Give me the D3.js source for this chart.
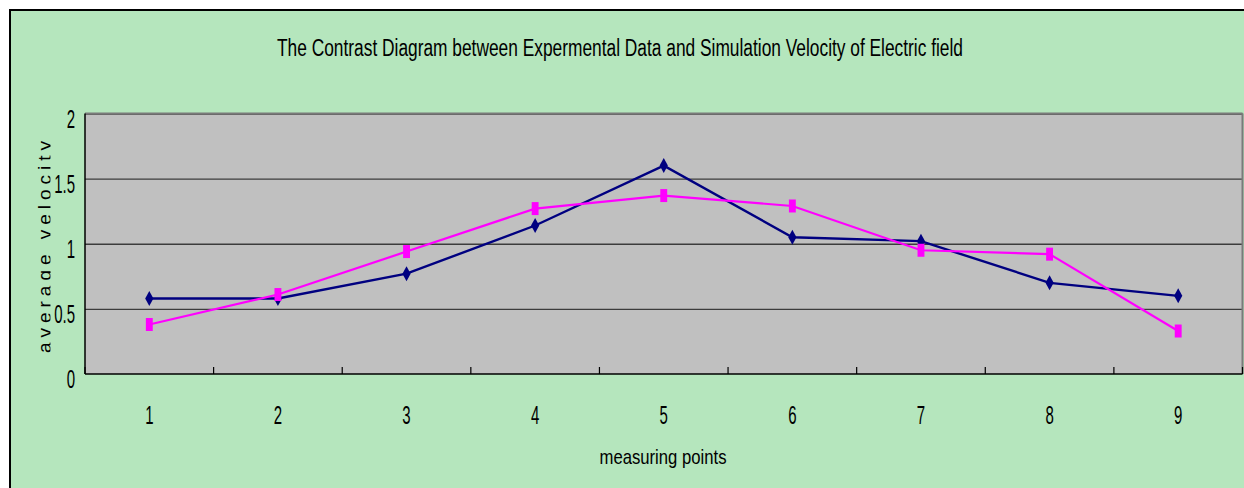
<!DOCTYPE html>
<html>
<head>
<meta charset="utf-8">
<script src="https://cdn.jsdelivr.net/npm/d3@7"></script>
<style>
  html, body { margin: 0; padding: 0; background: #ffffff; }
  svg { display: block; }
  text { font-family: "Liberation Sans", Arial, sans-serif; fill: #000; }
</style>
</head>
<body>
<svg id="chart" width="1244" height="488"></svg>
<script>
// Measured average velocity at each measuring point
const categories = ["1", "2", "3", "4", "5", "6", "7", "8", "9"];
const experimental = [0.58, 0.58, 0.77, 1.14, 1.60, 1.05, 1.02, 0.70, 0.60];
const simulation   = [0.38, 0.61, 0.94, 1.27, 1.37, 1.29, 0.95, 0.92, 0.33];
const yTicks = [0, 0.5, 1, 1.5, 2];
const yTickLabels = ["0", "0.5", "1", "1.5", "2"];
const titleText = "The Contrast Diagram between Expermental Data and Simulation Velocity of Electric field";
const xTitle = "measuring points";
const yTitle = "average velocity";

const svg = d3.select("#chart");
const W = 1244, H = 488;
const plot = { left: 85, right: 1242.5, top: 113.5, bottom: 374 };
const narrow = 0.6; // horizontal squeeze of the condensed lettering

// Chart area with frame
svg.append("rect")
  .attr("x", 10).attr("y", 10)
  .attr("width", W + 20).attr("height", H + 20)
  .attr("fill", "#b5e6bd")
  .attr("stroke", "#000").attr("stroke-width", 2);

const x = d3.scaleBand().domain(categories).range([plot.left, plot.right]).padding(0);
const y = d3.scaleLinear().domain([0, 2]).range([plot.bottom, plot.top]);
const cx = d => x(d) + x.bandwidth() / 2;

// Title
svg.append("text")
  .attr("x", 620).attr("y", 56)
  .attr("text-anchor", "middle")
  .attr("font-size", 23)
  .attr("textLength", 686)
  .attr("lengthAdjust", "spacingAndGlyphs")
  .text(titleText);

// Plot background
svg.append("rect")
  .attr("x", plot.left).attr("y", plot.top)
  .attr("width", plot.right - plot.left).attr("height", plot.bottom - plot.top)
  .attr("fill", "#c0c0c0");

// Horizontal gridlines with value labels
const yAxis = svg.append("g")
  .attr("transform", `translate(${plot.left},0)`)
  .call(d3.axisLeft(y).tickValues(yTicks)
    .tickSize(-(plot.right - plot.left))
    .tickFormat((d, i) => yTickLabels[i]));
yAxis.select(".domain").remove();
yAxis.selectAll(".tick line")
  .attr("stroke", d => d === 0 ? "none" : "#3c3c3c")
  .attr("stroke-width", 1.4);
yAxis.selectAll(".tick text")
  .attr("x", null).attr("dy", null)
  .attr("font-size", 25)
  .attr("font-family", "Liberation Sans, Arial, sans-serif")
  .attr("fill", "#000")
  .attr("text-anchor", "end")
  .attr("dominant-baseline", "middle")
  .attr("transform", `translate(-10,7) scale(${narrow},1)`);

// Plot border: grey top/right, black axis lines left/bottom
svg.append("line")
  .attr("x1", plot.left).attr("x2", plot.right)
  .attr("y1", plot.top).attr("y2", plot.top)
  .attr("stroke", "#7a7a7a").attr("stroke-width", 2);
svg.append("line")
  .attr("x1", plot.right).attr("x2", plot.right)
  .attr("y1", plot.top).attr("y2", plot.bottom)
  .attr("stroke", "#7a7a7a").attr("stroke-width", 2);
svg.append("line")
  .attr("x1", plot.left).attr("x2", plot.left)
  .attr("y1", plot.top).attr("y2", plot.bottom)
  .attr("stroke", "#000").attr("stroke-width", 1.5);
svg.append("line")
  .attr("x1", plot.left).attr("x2", plot.right)
  .attr("y1", plot.bottom).attr("y2", plot.bottom)
  .attr("stroke", "#000").attr("stroke-width", 1.5);

// Category boundary ticks pointing into the plot
const boundaries = categories.map(c => x(c)).concat([plot.right]);
svg.append("g").selectAll("line")
  .data(boundaries)
  .join("line")
  .attr("x1", d => d).attr("x2", d => d)
  .attr("y1", plot.bottom).attr("y2", plot.bottom - 7)
  .attr("stroke", "#000").attr("stroke-width", 1.2);

// Category labels
const xAxis = svg.append("g")
  .attr("transform", `translate(0,${plot.bottom})`)
  .call(d3.axisBottom(x).tickSize(0).tickPadding(0));
xAxis.select(".domain").remove();
xAxis.selectAll(".tick text")
  .attr("y", null).attr("dy", null)
  .attr("font-size", 25)
  .attr("font-family", "Liberation Sans, Arial, sans-serif")
  .attr("fill", "#000")
  .attr("transform", `translate(0,50) scale(${narrow},1)`);

// Axis titles
svg.append("text")
  .attr("x", 663).attr("y", 464)
  .attr("text-anchor", "middle")
  .attr("font-size", 21)
  .attr("textLength", 127)
  .attr("lengthAdjust", "spacingAndGlyphs")
  .text(xTitle);

// Vertical title, trimmed along its baseline edge
svg.append("clipPath").attr("id", "ytitle-clip")
  .append("rect").attr("x", 0).attr("y", 0).attr("width", 50.5).attr("height", H);
svg.append("g")
  .attr("clip-path", "url(#ytitle-clip)")
  .append("text")
  .attr("transform", "translate(51,353) rotate(-90)")
  .attr("font-size", 19)
  .attr("textLength", 212)
  .attr("lengthAdjust", "spacing")
  .text(yTitle);

// Series lines and markers
const line = d3.line().x((d, i) => cx(categories[i])).y(d => y(d));

svg.append("path")
  .datum(experimental)
  .attr("d", line)
  .attr("fill", "none")
  .attr("stroke", "#000080")
  .attr("stroke-width", 2.4);

svg.append("path")
  .datum(simulation)
  .attr("d", line)
  .attr("fill", "none")
  .attr("stroke", "#ff00ff")
  .attr("stroke-width", 2.2);

const diamond = d3.symbol().type(d3.symbolDiamond).size(65);
svg.append("g").selectAll("path")
  .data(experimental)
  .join("path")
  .attr("d", diamond)
  .attr("transform", (d, i) => `translate(${cx(categories[i])},${y(d)}) scale(0.95,1)`)
  .attr("fill", "#000080");

const square = d3.symbol().type(d3.symbolSquare).size(169);
svg.append("g").selectAll("path")
  .data(simulation)
  .join("path")
  .attr("d", square)
  .attr("transform", (d, i) => `translate(${cx(categories[i])},${y(d)}) scale(0.53,1)`)
  .attr("fill", "#ff00ff");
</script>
</body>
</html>
